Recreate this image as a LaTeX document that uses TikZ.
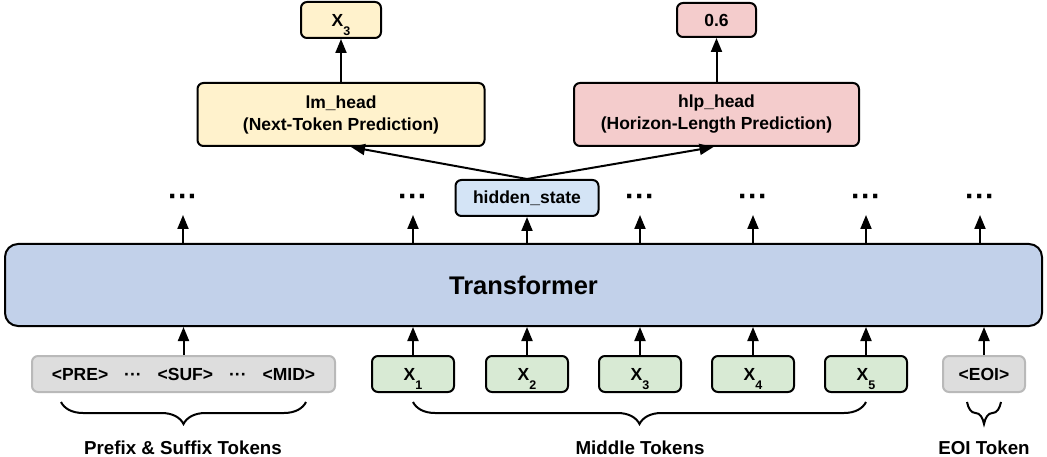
\documentclass[tikz,border=0pt]{standalone}
\usepackage{fontspec}
\setmainfont{Liberation Sans}
\usetikzlibrary{arrows.meta,decorations.pathreplacing,calc}
\definecolor{yel}{RGB}{255,242,204}
\definecolor{pnk}{RGB}{244,204,204}
\definecolor{hsb}{RGB}{212,228,246}
\definecolor{tfb}{RGB}{194,209,234}
\definecolor{grn}{RGB}{216,234,212}
\definecolor{gryf}{RGB}{221,221,221}
\definecolor{gryd}{RGB}{185,185,185}
\newcommand\fsz[2]{\fontsize{#1}{#2}\selectfont}
\newcommand\Xs[1]{X\smash{\raisebox{-9pt}{\fsz{12.5}{12.5}#1}}}
\tikzset{
  box/.style={draw, line width=2pt, rounded corners=6pt, inner sep=0pt, font=\fsz{17.5}{22}\bfseries, align=center},
  tok/.style={box, fill=grn, minimum width=82pt, minimum height=36pt},
  gtok/.style={box, draw=gryd, fill=gryf, minimum height=36pt},
  dotn/.style={inner sep=0pt, font=\fsz{30}{30}\bfseries, anchor=base},
  arr/.style={line width=2pt, -{Triangle[length=14pt,width=11pt]}},
  brc/.style={line width=2pt, decorate, decoration={brace, mirror, amplitude=22pt}},
  lbl/.style={inner sep=0pt, font=\fsz{18.75}{22}\bfseries, anchor=base},
}
\begin{document}
\begin{tikzpicture}[x=1pt,y=-1pt]
\useasboundingbox (0,0) rectangle (1047,457);
% heads
\node[box, fill=yel, minimum width=80pt, minimum height=36pt] (x3o) at (341,20) {\Xs{3}};
\node[box, fill=yel, minimum width=287pt, minimum height=63pt] (lm) at (341,114.5) {lm\_head\\(Next-Token Prediction)};
\node[box, fill=pnk, minimum width=79pt, minimum height=34pt] (po) at (716.5,20) {0.6};
\node[box, fill=pnk, minimum width=285pt, minimum height=63pt] (hlp) at (716.5,114.5) {hlp\_head\\(Horizon-Length Prediction)};
\node[box, fill=hsb, minimum width=143pt, minimum height=36pt] (hs) at (527,198) {hidden\_state};
% transformer
\node[draw, line width=2pt, rounded corners=13pt, fill=tfb, minimum width=1037pt, minimum height=82pt, inner sep=0pt, font=\fsz{25.5}{30}\bfseries] (tf) at (523.5,285) {Transformer};
% dots
\node[dotn] (d1) at (183,207) {···};
\node[dotn] (d2) at (413,207) {···};
\node[dotn] (d3) at (640,207) {···};
\node[dotn] (d4) at (753,207) {···};
\node[dotn] (d5) at (866,207) {···};
\node[dotn] (d6) at (980,207) {···};
% inputs
\node[gtok, minimum width=303pt] (pre) at (183.5,374) {<PRE>\hspace{16pt}···\hspace{16pt}<SUF>\hspace{16pt}···\hspace{16pt}<MID>};
\node[tok] (x1) at (413,374) {\Xs{1}};
\node[tok] (x2) at (527,374) {\Xs{2}};
\node[tok] (x3) at (640,374) {\Xs{3}};
\node[tok] (x4) at (753,374) {\Xs{4}};
\node[tok] (x5) at (866,374) {\Xs{5}};
\node[gtok, minimum width=82pt] (eoi) at (984,374) {<EOI>};
% arrows top
\draw[arr] (lm.north) -- (x3o.south);
\draw[arr] (hlp.north) -- (po.south);
\draw[arr] (hs.north) -- ([xshift=10pt]lm.south);
\draw[arr] (hs.north) -- ([xshift=-3pt]hlp.south);
\draw[arr] (tf.north -| hs.south) -- (hs.south);
\foreach \d in {d1,d2,d3,d4,d5,d6}{
  \draw[arr] (tf.north -| \d.base) -- ([yshift=-8pt]\d.base);
}
% arrows bottom
\foreach \t in {pre,x1,x2,x3,x4,x5,eoi}{
  \draw[arr] (\t.north) -- (tf.south -| \t.north);
}
% braces
\draw[brc] ([xshift=30pt,yshift=-9pt]pre.south west) -- ([xshift=-30pt,yshift=-9pt]pre.south east);
\draw[brc] ([yshift=-9pt]x1.south) -- ([yshift=-9pt]x5.south);
\draw[brc] ([xshift=-17pt,yshift=-9pt]eoi.south) -- ([xshift=17pt,yshift=-9pt]eoi.south);
% labels
\node[lbl] (lp) at (183,454) {Prefix \& Suffix Tokens};
\node[lbl] (lmid) at (640,454) {Middle Tokens};
\node[lbl] (leoi) at (984,454) {EOI Token};
\end{tikzpicture}
\end{document}
